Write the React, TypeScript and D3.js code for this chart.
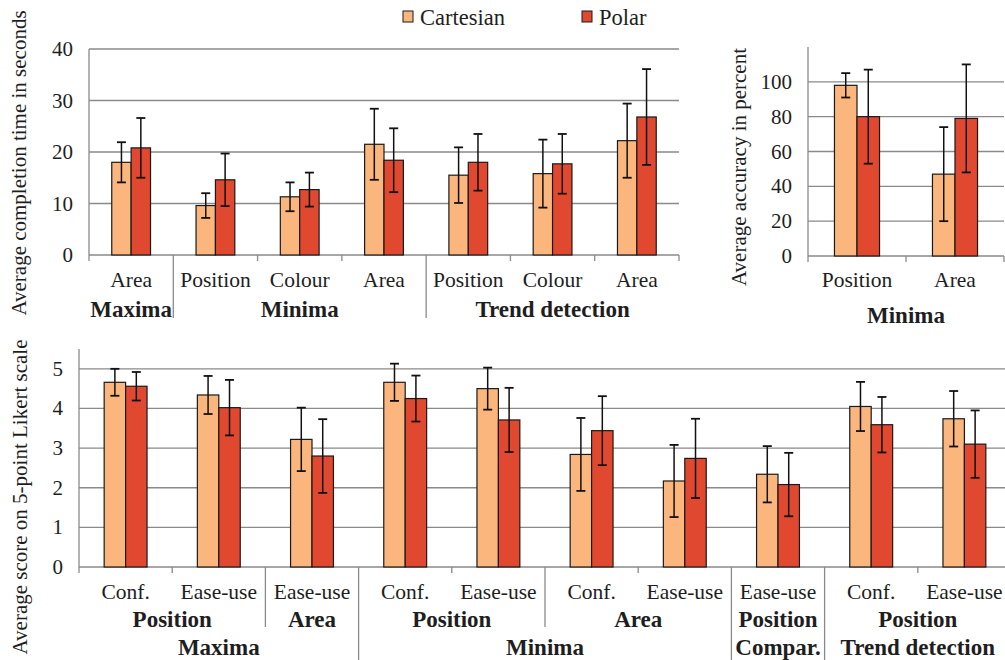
import React from 'react';
import * as d3 from 'd3';

// legend
const seriesNames = ['Cartesian', 'Polar'];
const seriesColors = ['#fbb67d', '#e0482f'];

// completion time (seconds)
const timeCategories = ['Area', 'Position', 'Colour', 'Area', 'Position', 'Colour', 'Area'];
const timeGroups = ['Maxima', 'Minima', 'Trend detection'];
const timeGroupSpans = [1, 3, 3];
const timeCartesian = [18.0, 9.6, 11.3, 21.5, 15.5, 15.8, 22.2];
const timeCartesianErr = [3.9, 2.4, 2.8, 6.9, 5.4, 6.6, 7.2];
const timePolar = [20.8, 14.6, 12.7, 18.4, 18.0, 17.7, 26.8];
const timePolarErr = [5.8, 5.1, 3.3, 6.2, 5.5, 5.8, 9.3];
const timeTicks = [0, 10, 20, 30, 40];

// accuracy (percent)
const accCategories = ['Position', 'Area'];
const accGroups = ['Minima'];
const accGroupSpans = [2];
const accCartesian = [98, 47];
const accCartesianErr = [7, 27];
const accPolar = [80, 79];
const accPolarErr = [27, 31];
const accTicks = [0, 20, 40, 60, 80, 100];

// likert scores
const likertCategories = ['Conf.', 'Ease-use', 'Ease-use', 'Conf.', 'Ease-use', 'Conf.', 'Ease-use', 'Ease-use', 'Conf.', 'Ease-use'];
const likertSubGroups = ['Position', 'Area', 'Position', 'Area', 'Position', 'Position'];
const likertSubSpans = [2, 1, 2, 2, 1, 2];
const likertTasks = ['Maxima', 'Minima', 'Compar.', 'Trend detection'];
const likertTaskSpans = [3, 4, 1, 2];
const likertCartesian = [4.66, 4.34, 3.22, 4.66, 4.5, 2.84, 2.17, 2.34, 4.05, 3.74];
const likertCartesianErr = [0.34, 0.48, 0.8, 0.47, 0.53, 0.92, 0.91, 0.71, 0.62, 0.7];
const likertPolar = [4.56, 4.02, 2.8, 4.25, 3.71, 3.44, 2.74, 2.08, 3.59, 3.1];
const likertPolarErr = [0.36, 0.7, 0.93, 0.58, 0.81, 0.87, 1.0, 0.8, 0.7, 0.85];
const likertTicks = [0, 1, 2, 3, 4, 5];

const font = 'Liberation Serif';
const gridColor = '#8a8a8a';
const textColor = '#1e1e1e';

type Level = { labels: string[]; spans: number[] };

function Panel(props: any) {
  const { cats, levels, values, errors, xRange, yRange, yMax, ticks, levelY, sepEnds, yLabel, yLabelPos } = props;
  const n = cats.length;
  const x = d3.scaleBand<number>().domain(d3.range(n)).range(xRange);
  const y = d3.scaleLinear().domain([0, yMax]).range(yRange);
  const bw = x.bandwidth();
  const inner = d3.scaleBand<number>().domain([0, 1]).range([bw * 0.27, bw * 0.73]);

  // boundaries of the category axis: short tick, or a long divider at group edges
  const bounds = d3.range(n + 1).map((i) => {
    let lvl = 0;
    (levels as Level[]).forEach((L, k) => {
      const cum = Array.from(d3.cumsum(L.spans));
      if (i > 0 && i < n && cum.includes(i)) lvl = k + 1;
    });
    const end = lvl > 0 ? sepEnds[lvl - 1] : y(0) + 6;
    return { xp: xRange[0] + i * bw, end };
  });

  const txt = { fontFamily: font, fill: textColor };

  return (
    <g>
      {ticks.filter((t: number) => t > 0).map((t: number) => (
        <line key={'g' + t} x1={xRange[0]} x2={xRange[1]} y1={y(t)} y2={y(t)} stroke={gridColor} strokeWidth={1.3} />
      ))}
      <line x1={xRange[0]} x2={xRange[0]} y1={y(0)} y2={y(yMax)} stroke={gridColor} strokeWidth={1.3} />
      <line x1={xRange[0]} x2={xRange[1]} y1={y(0)} y2={y(0)} stroke={gridColor} strokeWidth={1.3} />
      {bounds.map((b, i) => (
        <line key={'b' + i} x1={b.xp} x2={b.xp} y1={y(0)} y2={b.end} stroke={gridColor} strokeWidth={1.3} />
      ))}
      {ticks.map((t: number) => (
        <text key={'t' + t} x={xRange[0] - 16} y={y(t)} textAnchor="end" dominantBaseline="central" fontSize={21} style={txt}>{t}</text>
      ))}
      {values.map((series: number[], s: number) =>
        series.map((v, i) => {
          const bx = (x(i) as number) + (inner(s) as number);
          const w = inner.bandwidth();
          const cx = bx + w / 2;
          const e = errors[s][i];
          return (
            <g key={'bar' + s + '-' + i}>
              <rect x={bx} y={y(v)} width={w} height={y(0) - y(v)} fill={seriesColors[s]} stroke="#1a1a1a" strokeWidth={1.2} />
              <line x1={cx} x2={cx} y1={y(v - e)} y2={y(v + e)} stroke="#111" strokeWidth={1.5} />
              <line x1={cx - 4.5} x2={cx + 4.5} y1={y(v - e)} y2={y(v - e)} stroke="#111" strokeWidth={1.8} />
              <line x1={cx - 4.5} x2={cx + 4.5} y1={y(v + e)} y2={y(v + e)} stroke="#111" strokeWidth={1.8} />
            </g>
          );
        })
      )}
      {cats.map((c: string, i: number) => (
        <text key={'c' + i} x={(x(i) as number) + bw / 2} y={levelY[0]} textAnchor="middle" dominantBaseline="central" fontSize={21.5} style={txt}>{c}</text>
      ))}
      {(levels as Level[]).map((L, k) => {
        const cum = [0, ...Array.from(d3.cumsum(L.spans))];
        return L.labels.map((lab, j) => (
          <text key={'l' + k + '-' + j} x={xRange[0] + ((cum[j] + cum[j + 1]) / 2) * bw} y={levelY[k + 1]} textAnchor="middle" dominantBaseline="central" fontSize={23} fontWeight="bold" style={txt}>{lab}</text>
        ));
      })}
      <text transform={`translate(${yLabelPos[0]},${yLabelPos[1]}) rotate(-90)`} textAnchor="middle" dominantBaseline="central" fontSize={21} style={txt}>{yLabel}</text>
    </g>
  );
}

export default function App() {
  return (
    <svg width={1005} height={660} viewBox="0 0 1005 660" style={{ position: 'absolute', left: 0, top: 0, background: '#fff' }}>
      <rect width={1005} height={660} fill="#fff" />
      {/* legend */}
      {seriesNames.map((s, i) => {
        const lx = i === 0 ? 403 : 582;
        return (
          <g key={s}>
            <rect x={lx} y={11} width={10} height={11} fill={seriesColors[i]} stroke="#1a1a1a" strokeWidth={1} />
            <text x={lx + 17} y={17} dominantBaseline="central" fontSize={22.5} style={{ fontFamily: font, fill: textColor }}>{s}</text>
          </g>
        );
      })}
      <Panel
        cats={timeCategories}
        levels={[{ labels: timeGroups, spans: timeGroupSpans }]}
        values={[timeCartesian, timePolar]}
        errors={[timeCartesianErr, timePolarErr]}
        xRange={[89, 679]}
        yRange={[255, 49]}
        yMax={40}
        ticks={timeTicks}
        levelY={[280, 309]}
        sepEnds={[318]}
        yLabel="Average completion time in seconds"
        yLabelPos={[19, 163]}
      />
      <Panel
        cats={accCategories}
        levels={[{ labels: accGroups, spans: accGroupSpans }]}
        values={[accCartesian, accPolar]}
        errors={[accCartesianErr, accPolarErr]}
        xRange={[808, 1004]}
        yRange={[256, 47]}
        yMax={120}
        ticks={accTicks}
        levelY={[280, 315]}
        sepEnds={[318]}
        yLabel="Average accuracy in percent"
        yLabelPos={[739, 167]}
      />
      <Panel
        cats={likertCategories}
        levels={[
          { labels: likertSubGroups, spans: likertSubSpans },
          { labels: likertTasks, spans: likertTaskSpans },
        ]}
        values={[likertCartesian, likertPolar]}
        errors={[likertCartesianErr, likertPolarErr]}
        xRange={[79, 1011]}
        yRange={[567, 349]}
        yMax={5.5}
        ticks={likertTicks}
        levelY={[592, 619, 647]}
        sepEnds={[627, 660]}
        yLabel="Average score on 5-point Likert scale"
        yLabelPos={[20, 497]}
      />
    </svg>
  );
}
